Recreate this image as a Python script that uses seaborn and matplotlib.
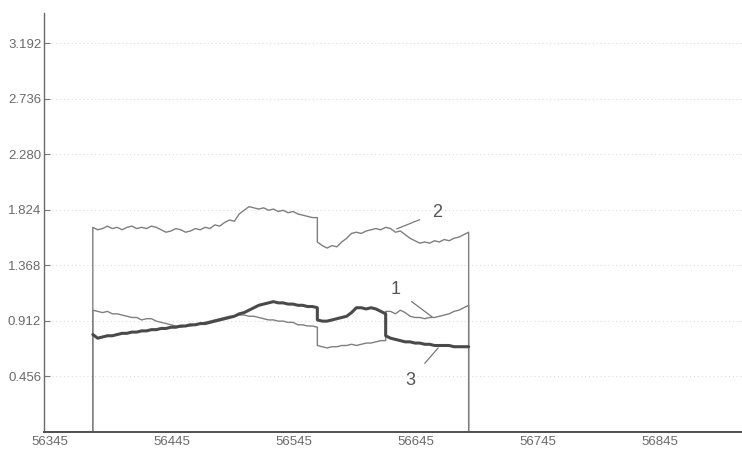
import numpy as np
import pandas as pd
import matplotlib
matplotlib.use("Agg")
import matplotlib.pyplot as plt
import seaborn as sns

# Sample index (shared by all three traces); the repeated entries mark step changes
sample_x = [
    56380, 56384, 56388, 56392, 56396, 56400, 56404, 56408, 56412, 56416,
    56420, 56424, 56428, 56432, 56436, 56440, 56444, 56448, 56452, 56456,
    56460, 56464, 56468, 56472, 56476, 56480, 56484, 56488, 56492, 56496,
    56500, 56504, 56508, 56512, 56516, 56520, 56524, 56528, 56532, 56536,
    56540, 56544, 56548, 56552, 56556, 56560, 56564, 56564, 56568, 56572,
    56576, 56580, 56584, 56588, 56592, 56596, 56600, 56604, 56608, 56612,
    56616, 56620, 56620, 56624, 56628, 56632, 56636, 56640, 56644, 56648,
    56652, 56656, 56660, 56664, 56668, 56672, 56676, 56680, 56684, 56688,
]

trace_1 = [
    1.00, 0.99, 0.98, 0.99, 0.97, 0.97, 0.96, 0.95, 0.94, 0.94,
    0.92, 0.93, 0.93, 0.91, 0.90, 0.89, 0.88, 0.87, 0.86, 0.87,
    0.87, 0.88, 0.89, 0.90, 0.91, 0.92, 0.93, 0.94, 0.95, 0.95,
    0.96, 0.96, 0.95, 0.95, 0.94, 0.93, 0.92, 0.92, 0.91, 0.91,
    0.90, 0.90, 0.88, 0.88, 0.87, 0.87, 0.86, 0.71, 0.70, 0.69,
    0.70, 0.70, 0.71, 0.71, 0.72, 0.71, 0.72, 0.73, 0.73, 0.74,
    0.75, 0.75, 0.99, 0.99, 0.97, 1.00, 0.98, 0.95, 0.94, 0.94,
    0.93, 0.94, 0.94, 0.95, 0.96, 0.97, 0.99, 1.00, 1.02, 1.04,
]

trace_2 = [
    1.68, 1.66, 1.67, 1.69, 1.67, 1.68, 1.66, 1.68, 1.69, 1.67,
    1.68, 1.67, 1.69, 1.68, 1.66, 1.64, 1.65, 1.67, 1.66, 1.64,
    1.65, 1.67, 1.66, 1.68, 1.67, 1.70, 1.69, 1.72, 1.74, 1.73,
    1.79, 1.82, 1.85, 1.84, 1.83, 1.84, 1.82, 1.83, 1.81, 1.82,
    1.80, 1.81, 1.79, 1.78, 1.77, 1.76, 1.76, 1.56, 1.53, 1.51,
    1.53, 1.52, 1.56, 1.59, 1.63, 1.64, 1.63, 1.65, 1.66, 1.67,
    1.66, 1.68, 1.68, 1.67, 1.64, 1.65, 1.62, 1.59, 1.57, 1.55,
    1.56, 1.55, 1.57, 1.56, 1.58, 1.57, 1.59, 1.60, 1.62, 1.64,
]

trace_3 = [
    0.80, 0.77, 0.78, 0.79, 0.79, 0.80, 0.81, 0.81, 0.82, 0.82,
    0.83, 0.83, 0.84, 0.84, 0.85, 0.85, 0.86, 0.86, 0.87, 0.87,
    0.88, 0.88, 0.89, 0.89, 0.90, 0.91, 0.92, 0.93, 0.94, 0.95,
    0.97, 0.98, 1.00, 1.02, 1.04, 1.05, 1.06, 1.07, 1.06, 1.06,
    1.05, 1.05, 1.04, 1.04, 1.03, 1.03, 1.02, 0.92, 0.91, 0.91,
    0.92, 0.93, 0.94, 0.95, 0.98, 1.02, 1.02, 1.01, 1.02, 1.01,
    0.99, 0.97, 0.79, 0.77, 0.76, 0.75, 0.74, 0.74, 0.73, 0.73,
    0.72, 0.72, 0.71, 0.71, 0.71, 0.71, 0.70, 0.70, 0.70, 0.70,
]

# Recording window: outside the sampled span the thin traces sit at zero
record_span = [56340, 56912]

x_ticks = [56345, 56445, 56545, 56645, 56745, 56845]
y_ticks = [0.456, 0.912, 1.368, 1.824, 2.280, 2.736, 3.192]

labels = ["1", "2", "3"]


def padded(values):
    xs = [record_span[0], sample_x[0]] + sample_x + [sample_x[-1], record_span[1]]
    ys = [0.0, 0.0] + values + [0.0, 0.0]
    return pd.DataFrame({"x": xs, "y": ys})


def plain(values):
    return pd.DataFrame({"x": sample_x, "y": values})


sns.set_theme(style="white")
plt.rcParams["font.family"] = ["Liberation Sans Narrow", "Liberation Sans", "DejaVu Sans"]

fig = plt.figure(figsize=(7.42, 4.53), dpi=100)
ax = fig.add_axes([0.0593, 0.0464, 0.9407, 0.925])

grid_col = "#dcdcdc"
for yv in y_ticks:
    ax.axhline(yv, color=grid_col, lw=0.8, ls=(0, (1, 2.5)), zorder=0)

thin_col = "#7f7f7f"
thick_col = "#4a4a4a"
sns.lineplot(data=padded(trace_2), x="x", y="y", estimator=None, sort=False,
             color=thin_col, lw=1.0, ax=ax)
sns.lineplot(data=padded(trace_1), x="x", y="y", estimator=None, sort=False,
             color=thin_col, lw=1.0, ax=ax)
sns.lineplot(data=plain(trace_3), x="x", y="y", estimator=None, sort=False,
             color=thick_col, lw=2.2, ax=ax)

ax.set_xlim(record_span[0], record_span[1])
ax.set_ylim(0, 3.44)
ax.set_xticks(x_ticks)
ax.set_xticklabels([str(v) for v in x_ticks])
ax.set_yticks(y_ticks)
ax.set_yticklabels([f"{v:.3f}" for v in y_ticks])
ax.set_xlabel("")
ax.set_ylabel("")

for side in ("top", "right"):
    ax.spines[side].set_visible(False)
ax.spines["left"].set_color("#6a6a6a")
ax.spines["left"].set_linewidth(1.0)
ax.spines["bottom"].set_color("#505050")
ax.spines["bottom"].set_linewidth(1.4)

ax.tick_params(axis="y", direction="in", length=4, width=0.8, color="#777777",
               labelsize=9.5, labelcolor="#6a6a6a", pad=2, left=True)
ax.tick_params(axis="x", direction="in", length=0, labelsize=9.5,
               labelcolor="#6a6a6a", pad=3)

# Curve numbers with leader lines
ann_col = "#555555"
leaders = {
    "2": ((56629, 1.667), (56662, 1.80)),
    "1": ((56658, 0.945), (56628, 1.17)),
    "3": ((56663, 0.690), (56640, 0.425)),
}
for lab in labels:
    (px, py), (tx, ty) = leaders[lab]
    ax.annotate(lab, xy=(px, py), xytext=(tx, ty), fontsize=13, color=ann_col,
                ha="center", va="center",
                arrowprops=dict(arrowstyle="-", color="#777777", lw=0.9,
                                shrinkA=7, shrinkB=0))

fig.savefig("out.png", dpi=100, facecolor="white")
